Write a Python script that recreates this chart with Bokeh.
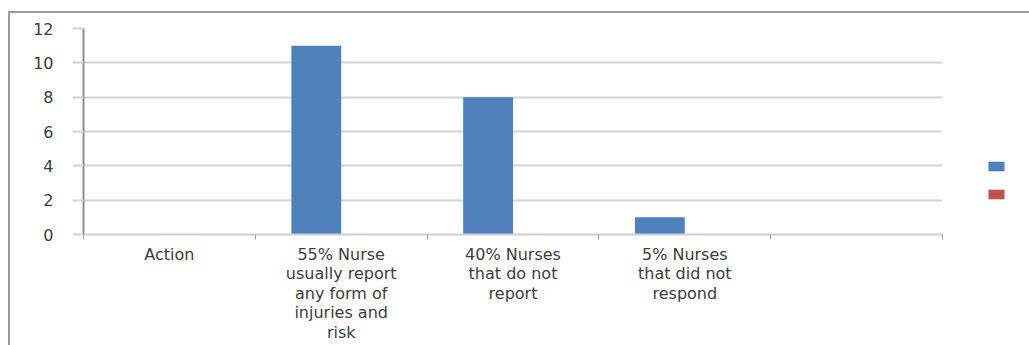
from bokeh.plotting import figure
from bokeh.models import (Range1d, FixedTicker, ColumnDataSource, Legend, LegendItem)
from bokeh.embed import file_html
from bokeh.resources import INLINE

categories = ["Action",
              "55% Nurse\nusually report\nany form of\ninjuries and\nrisk",
              "40% Nurses\nthat do not\nreport",
              "5% Nurses\nthat did not\nrespond",
              ""]
series1 = [0, 11, 8, 1, 0]
series2 = [0, 0, 0, 0, 0]
y_ticks = [0, 2, 4, 6, 8, 10, 12]

centers = [i + 0.5 for i in range(len(categories))]
bw = 0.29
src = ColumnDataSource(dict(
    x1=[c - bw / 2 for c in centers], x2=[c + bw / 2 for c in centers],
    s1=series1, s2=series2))

# canvas origin is at page (10, 13) because of the css border/margin
OX, OY = 10, 13
p = figure(frame_width=942 - 83, frame_height=234 - 28,
           output_backend="svg", toolbar_location=None,
           x_range=Range1d(0, len(categories)), y_range=Range1d(0, 12),
           min_border_left=83 - OX, min_border_right=80,
           min_border_top=28 - OY, min_border_bottom=332 - (234 - OY))
p.styles = {"margin-left": "8px", "margin-top": "11px",
            "border-left": "2px solid #9a9a9a", "border-top": "2px solid #9a9a9a"}
p.outline_line_color = None
p.background_fill_color = "white"
p.border_fill_color = "white"

r1 = p.vbar(x="x1", top="s1", width=bw, source=src, fill_color="#4F81BD", line_color=None)
r2 = p.vbar(x="x2", top="s2", width=bw, source=src, fill_color="#C0504D", line_color=None)

font = "DejaVu Sans"
tc = "#3c3c3c"

xa = p.xaxis[0]
xa.ticker = FixedTicker(ticks=centers, minor_ticks=list(range(len(categories) + 1)))
xa.major_label_overrides = {c: lab for c, lab in zip(centers, categories)}
xa.major_tick_line_color = None
xa.minor_tick_out = 5
xa.minor_tick_in = 0
xa.minor_tick_line_color = "#a0a0a0"
xa.axis_line_color = "#cfcfcf"
xa.axis_line_width = 2
xa.major_label_standoff = 4
xa.major_label_text_font = font
xa.major_label_text_font_size = "16px"
xa.major_label_text_line_height = 1.03
xa.major_label_text_color = tc

ya = p.yaxis[0]
ya.ticker = FixedTicker(ticks=y_ticks, minor_ticks=[])
ya.major_tick_out = 11
ya.major_tick_in = 0
ya.major_tick_line_color = "#d4d4d4"
ya.major_tick_line_width = 2
ya.axis_line_color = "#8c8c8c"
ya.axis_line_width = 2
ya.major_label_standoff = 19
ya.major_label_text_font = font
ya.major_label_text_font_size = "16px"
ya.major_label_text_color = tc

p.xgrid.grid_line_color = None
p.ygrid.ticker = FixedTicker(ticks=y_ticks)
p.ygrid.grid_line_color = "#d4d4d4"
p.ygrid.grid_line_width = 2

legend = Legend(items=[LegendItem(label=" ", renderers=[r1]),
                       LegendItem(label=" ", renderers=[r2])],
                location=(44, 34), glyph_width=20, glyph_height=12,
                label_width=0, label_height=12, label_standoff=0,
                spacing=16, padding=0, margin=0,
                border_line_color=None, background_fill_alpha=0)
p.add_layout(legend, "right")

open("out.html", "w").write(file_html(p, INLINE))
